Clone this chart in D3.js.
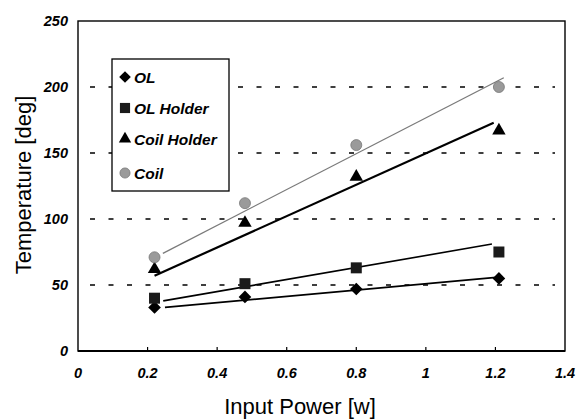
<!DOCTYPE html>
<html>
<head>
<meta charset="utf-8">
<script src="https://cdn.jsdelivr.net/npm/d3@7"></script>
<style>
	body { margin: 0; background: #fff; }
	svg { display: block; }
	.tick-label { font: italic bold 14.5px 'Liberation Sans', Arial, sans-serif; }
	.axis-title { font: 22px 'Liberation Sans', Arial, sans-serif; }
	.legend-text { font: italic bold 15.5px 'Liberation Sans', Arial, sans-serif; }
</style>
</head>
<body>
<svg id="chart" width="577" height="419"></svg>
<script>
// data
const powers = [0.22, 0.48, 0.8, 1.21];
const olTemps = [33, 41, 47, 55];
const olHolderTemps = [40, 51, 63, 75];
const coilHolderTemps = [62, 97, 132, 167];
const coilTemps = [71, 112, 156, 200];

// trend line end points [x, y]
const olFit = [[0.25, 33], [1.21, 56]];
const olHolderFit = [[0.245, 38], [1.19, 81]];
const coilHolderFit = [[0.22, 57], [1.195, 173]];
const coilFit = [[0.244, 74], [1.224, 207]];

const seriesNames = ['OL', 'OL Holder', 'Coil Holder', 'Coil'];
const xTicks = [0, 0.2, 0.4, 0.6, 0.8, 1, 1.2, 1.4];
const yTicks = [0, 50, 100, 150, 200, 250];
const gridValues = [50, 100, 150, 200];

const series = [
	{ name: seriesNames[0], values: olTemps, fit: olFit, shape: 'diamond', fill: '#000', lineColor: '#000', lineWidth: 1.8 },
	{ name: seriesNames[1], values: olHolderTemps, fit: olHolderFit, shape: 'square', fill: '#1a1a1a', lineColor: '#000', lineWidth: 1.6 },
	{ name: seriesNames[2], values: coilHolderTemps, fit: coilHolderFit, shape: 'triangle', fill: '#000', lineColor: '#000', lineWidth: 2.2 },
	{ name: seriesNames[3], values: coilTemps, fit: coilFit, shape: 'circle', fill: '#9a9a9a', lineColor: '#7a7a7a', lineWidth: 1.3 }
];

const svg = d3.select('#chart');
const margin = { left: 78, right: 12, top: 21, bottom: 68 };
const width = 577, height = 419;

const xScale = d3.scaleLinear().domain([0, 1.4]).range([margin.left, width - margin.right]);
const yScale = d3.scaleLinear().domain([0, 250]).range([height - margin.bottom, margin.top]);

// marker helper
function marker(sel, shape, fill, scale) {
	const k = scale || 1;
	if (shape === 'diamond') {
		sel.append('path')
			.attr('d', d3.symbol().type(d3.symbolSquare).size(80 * k)())
			.attr('transform', 'rotate(45)')
			.attr('fill', fill);
	} else if (shape === 'square') {
		sel.append('path')
			.attr('d', d3.symbol().type(d3.symbolSquare).size(121 * k)())
			.attr('fill', fill);
	} else if (shape === 'triangle') {
		sel.append('path')
			.attr('d', d3.symbol().type(d3.symbolTriangle).size(78 * k)())
			.attr('fill', fill);
	} else {
		sel.append('path')
			.attr('d', d3.symbol().type(d3.symbolCircle).size(95 * k)())
			.attr('fill', fill)
			.attr('stroke', '#777')
			.attr('stroke-width', 0.8);
	}
}

// gridlines
svg.append('g')
	.selectAll('line')
	.data(gridValues)
	.join('line')
	.attr('x1', xScale(0) + 12)
	.attr('x2', xScale(1.4) - 10)
	.attr('y1', d => yScale(d))
	.attr('y2', d => yScale(d))
	.attr('stroke', '#000')
	.attr('stroke-width', 1.3)
	.attr('stroke-dasharray', '5,13.5');

// frame
svg.append('rect')
	.attr('x', xScale(0))
	.attr('y', yScale(250))
	.attr('width', xScale(1.4) - xScale(0))
	.attr('height', yScale(0) - yScale(250))
	.attr('fill', 'none')
	.attr('stroke', '#000')
	.attr('stroke-width', 1.4);

// bottom axis line, a bit heavier
svg.append('line')
	.attr('x1', xScale(0)).attr('x2', xScale(1.4))
	.attr('y1', yScale(0)).attr('y2', yScale(0))
	.attr('stroke', '#000').attr('stroke-width', 2);

// x ticks point inward
svg.append('g')
	.selectAll('line')
	.data(xTicks.slice(1, -1))
	.join('line')
	.attr('x1', d => xScale(d)).attr('x2', d => xScale(d))
	.attr('y1', yScale(0)).attr('y2', yScale(0) - 4)
	.attr('stroke', '#000').attr('stroke-width', 1.2);

// tick labels
svg.append('g')
	.selectAll('text')
	.data(xTicks)
	.join('text')
	.attr('class', 'tick-label')
	.attr('x', d => xScale(d))
	.attr('y', 378)
	.attr('text-anchor', 'middle')
	.text(d => d);

svg.append('g')
	.selectAll('text')
	.data(yTicks)
	.join('text')
	.attr('class', 'tick-label')
	.attr('x', 68)
	.attr('y', d => yScale(d) + 5)
	.attr('text-anchor', 'end')
	.text(d => d);

// axis titles
svg.append('text')
	.attr('class', 'axis-title')
	.attr('x', 300)
	.attr('y', 414)
	.attr('text-anchor', 'middle')
	.text('Input Power [w]');

svg.append('text')
	.attr('class', 'axis-title')
	.attr('transform', 'translate(31,185) rotate(-90)')
	.attr('text-anchor', 'middle')
	.text('Temperature [deg]');

// trend lines
const line = d3.line().x(d => xScale(d[0])).y(d => yScale(d[1]));
series.forEach(s => {
	svg.append('path')
		.datum(s.fit)
		.attr('d', line)
		.attr('fill', 'none')
		.attr('stroke', s.lineColor)
		.attr('stroke-width', s.lineWidth);
});

// markers
series.forEach(s => {
	svg.append('g')
		.selectAll('g')
		.data(powers.map((p, i) => [p, s.values[i]]))
		.join('g')
		.attr('transform', d => `translate(${xScale(d[0])},${yScale(d[1])})`)
		.each(function () { marker(d3.select(this), s.shape, s.fill); });
});

// legend
const legend = svg.append('g').attr('transform', 'translate(112,59)');
legend.append('rect')
	.attr('width', 117)
	.attr('height', 132)
	.attr('fill', '#fff')
	.attr('stroke', '#000')
	.attr('stroke-width', 1.3);
const rowY = [18, 49, 80, 114];
series.forEach((s, i) => {
	const row = legend.append('g').attr('transform', `translate(13,${rowY[i]})`);
	marker(row, s.shape, s.fill, 0.85);
	row.append('text')
		.attr('class', 'legend-text')
		.attr('x', 9)
		.attr('y', 5.5)
		.text(s.name);
});
</script>
</body>
</html>
